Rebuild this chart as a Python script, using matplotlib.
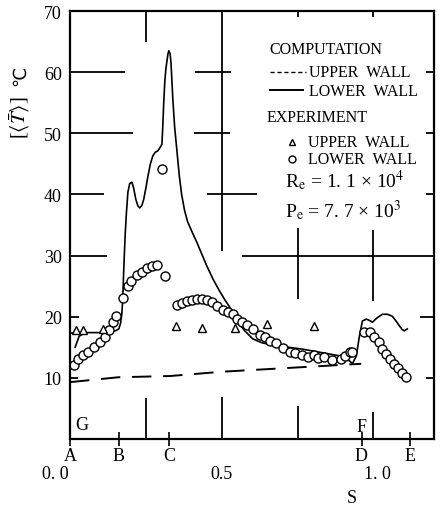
import numpy as np
import matplotlib
matplotlib.use("Agg")
import matplotlib.pyplot as plt
import matplotlib.transforms as mtransforms

plt.rcParams["font.family"] = ["Liberation Serif", "DejaVu Serif", "DejaVu Sans"]
plt.rcParams["mathtext.fontset"] = "stix"

# computation, lower wall (solid)
s_low_comp = [0.017, 0.03, 0.05, 0.10, 0.13, 0.150, 0.161, 0.167, 0.171, 0.174, 0.176,
              0.179, 0.182, 0.186, 0.191, 0.197, 0.204, 0.210, 0.217, 0.224, 0.230,
              0.237, 0.243, 0.250, 0.257, 0.265, 0.273, 0.281, 0.289, 0.296, 0.303,
              0.306, 0.309, 0.3125, 0.316, 0.319, 0.323, 0.326, 0.330, 0.333, 0.336,
              0.339, 0.345, 0.352, 0.360, 0.368, 0.378, 0.388, 0.403, 0.418, 0.434,
              0.451, 0.472, 0.493, 0.510, 0.526, 0.540, 0.553, 0.565, 0.576, 0.590,
              0.602, 0.620, 0.635, 0.691, 0.766, 0.822, 0.888, 0.921, 0.931, 0.944,
              0.954, 0.964, 0.977, 0.987, 0.997, 1.012, 1.030, 1.046, 1.062, 1.075,
              1.086, 1.095, 1.102, 1.112]
T_low_comp = [15.0, 16.8, 17.4, 17.4, 17.5, 17.7, 18.0, 19.0, 20.5, 23.0, 26.0,
              30.0, 33.5, 37.0, 40.4, 41.8, 42.0, 41.0, 39.2, 38.1, 37.8,
              38.2, 39.2, 41.0, 43.0, 45.0, 46.3, 46.9, 47.1, 47.6, 48.2,
              51.2, 55.0, 58.4, 60.5, 61.6, 63.0, 63.5, 63.0, 61.5, 58.5,
              55.6, 51.0, 47.4, 43.2, 40.0, 37.3, 35.5, 33.8, 32.2, 30.3,
              28.3, 26.1, 24.2, 22.8, 21.6, 20.4, 19.3, 18.4, 17.7, 17.0,
              16.4, 16.0, 15.7, 15.2, 14.7, 14.2, 13.6, 12.8, 12.3, 13.6,
              16.8, 19.3, 19.6, 19.4, 19.1, 19.8, 20.4, 20.4, 20.1, 19.3,
              18.5, 17.9, 17.7, 18.0]
# short flat piece at the inlet
s_low_inlet = [0.0, 0.05]
T_low_inlet = [17.4, 17.4]

# computation, upper wall (dashed)
s_up_comp = [0.0, 0.16, 0.33, 0.50, 0.96]
T_up_comp = [9.3, 10.1, 10.3, 11.0, 12.3]

# experiment, lower wall (circles)
s_low_exp = [0.013, 0.026, 0.043, 0.059, 0.079, 0.099, 0.115, 0.128, 0.141, 0.151,
             0.174, 0.191, 0.201, 0.220, 0.237, 0.253, 0.270, 0.286, 0.303, 0.313,
             0.352, 0.368, 0.385, 0.401, 0.418, 0.434, 0.451, 0.467, 0.484, 0.503,
             0.520, 0.536, 0.549, 0.566, 0.582, 0.602, 0.625, 0.642, 0.658, 0.678,
             0.701, 0.724, 0.743, 0.766, 0.786, 0.806, 0.819, 0.839, 0.865, 0.895,
             0.908, 0.924, 0.931, 0.970, 0.990, 1.003, 1.020, 1.030, 1.043, 1.056,
             1.069, 1.082, 1.095, 1.109]
T_low_exp = [12.1, 13.1, 13.7, 14.2, 15.0, 15.8, 16.7, 17.8, 19.1, 20.1,
             23.1, 25.0, 25.8, 26.8, 27.3, 28.0, 28.3, 28.5, 44.2, 26.7,
             21.9, 22.2, 22.5, 22.7, 22.9, 22.9, 22.7, 22.4, 21.8, 21.1,
             20.8, 20.4, 19.6, 19.1, 18.6, 18.0, 17.0, 16.7, 16.0, 15.7,
             14.9, 14.2, 14.1, 13.7, 13.4, 13.7, 13.2, 13.4, 12.9, 13.1,
             13.6, 14.2, 14.2, 17.5, 17.5, 16.7, 15.9, 14.7, 13.9, 13.1,
             12.3, 11.6, 10.8, 10.1]

# experiment, upper wall (triangles)
s_up_exp = [0.020, 0.043, 0.109, 0.349, 0.434, 0.543, 0.648, 0.806]
T_up_exp = [17.8, 17.8, 18.0, 18.4, 18.2, 18.2, 18.8, 18.5]

# station letters along S
station_s = [0.0, 0.161, 0.326, 0.961, 1.122]
station_names = ["A", "B", "C", "D", "E"]
s_labels = [(-0.05, "0. 0"), (0.5, "0.5"), (1.013, "1. 0")]

# broken grid pieces: (value, start, end)
h_grid = [(60, 0.0, 0.181), (60, 0.411, 0.530), (60, 1.174, 1.2),
          (50, 0.0, 0.207), (50, 0.408, 0.526), (50, 1.174, 1.2),
          (40, 0.0, 0.112), (40, 0.451, 0.618), (40, 1.174, 1.2),
          (30, 0.0, 0.122), (30, 0.566, 1.2),
          (20, 0.0, 0.03), (20, 1.155, 1.2),
          (10, 0.0, 0.026), (10, 1.174, 1.2)]
v_grid = [(0.25, 0.0, 6.7), (0.25, 64.9, 70),
          (0.5, 0.0, 6.9), (0.5, 30.7, 70),
          (0.75, 0.0, 5.4), (0.75, 22.9, 34.5), (0.75, 69.0, 70),
          (1.0, 0.0, 4.4), (1.0, 22.6, 34.2), (1.0, 69.0, 70)]

fig = plt.figure(figsize=(4.4, 5.06), dpi=100)
ax = fig.add_axes([70 / 440, 66 / 506, 364 / 440, 428 / 506])
ax.set_xlim(0, 1.2)
ax.set_ylim(0, 70)

for y, x0, x1 in h_grid:
    ax.hlines(y, x0, x1, color="black", lw=1.3)
for x, y0, y1 in v_grid:
    ax.vlines(x, y0, y1, color="black", lw=1.3)

ax.plot(s_low_inlet, T_low_inlet, color="black", lw=1.2)
ax.plot(s_low_comp, T_low_comp, color="black", lw=1.2)
ax.plot(s_up_comp, T_up_comp, color="black", lw=1.4, dashes=(10, 6))
ax.plot(s_low_exp, T_low_exp, "o", ms=6.5, mfc="white", mec="black", mew=1.0)
ax.plot(s_up_exp, T_up_exp, "^", ms=6, mfc="white", mec="black", mew=1.0)

for sp in ax.spines.values():
    sp.set_linewidth(1.6)

ax.set_yticks([10, 20, 30, 40, 50, 60, 70])
ax.tick_params(axis="y", length=0, labelsize=13, pad=6)
ax.set_xticks(station_s)
ax.set_xticklabels(station_names)
ax.tick_params(axis="x", direction="inout", length=10, width=1.2, labelsize=13, pad=1)

trans = mtransforms.blended_transform_factory(ax.transData, ax.transAxes)
for x, lab in s_labels:
    ax.text(x, -0.08, lab, transform=trans, ha="center", va="center", fontsize=13)
ax.text(0.93, -0.136, "S", transform=trans, ha="center", va="center", fontsize=13)
ax.text(0.04, 2.4, "G", ha="center", va="center", fontsize=13)
ax.text(0.96, 2.1, "F", ha="center", va="center", fontsize=13)

# y label: bracket part in mathtext, degree sign as a separate glyph
fig.text(20 / 440, 1 - 118 / 506, r"[$\langle\bar{T}\rangle$]", rotation=90,
         ha="center", va="center", fontsize=15)
fig.text(20 / 440, 1 - 76 / 506, "℃", rotation=90, ha="center", va="center",
         fontsize=13, family=["DejaVu Sans", "Noto Sans CJK JP"])

# legend drawn by hand
fs = 11.5
ax.text(0.547, 0.911, "COMPUTATION", transform=ax.transAxes, va="center", fontsize=fs)
ax.plot([0.549, 0.648], [0.857, 0.857], transform=ax.transAxes, color="black",
        lw=1.0, dashes=(3, 2))
ax.text(0.657, 0.857, "UPPER  WALL", transform=ax.transAxes, va="center", fontsize=fs)
ax.plot([0.549, 0.640], [0.816, 0.816], transform=ax.transAxes, color="black", lw=1.4)
ax.text(0.657, 0.813, "LOWER  WALL", transform=ax.transAxes, va="center", fontsize=fs)
ax.text(0.541, 0.752, "EXPERIMENT", transform=ax.transAxes, va="center", fontsize=fs)
ax.plot([0.610], [0.694], "^", transform=ax.transAxes, ms=5, mfc="white", mec="black", mew=1.0)
ax.text(0.654, 0.694, "UPPER  WALL", transform=ax.transAxes, va="center", fontsize=fs)
ax.plot([0.610], [0.654], "o", transform=ax.transAxes, ms=5, mfc="white", mec="black", mew=1.0)
ax.text(0.654, 0.654, "LOWER  WALL", transform=ax.transAxes, va="center", fontsize=fs)
ax.text(0.591, 0.607, r"R$_\mathrm{e}$ = 1. 1 × 10$^4$", transform=ax.transAxes,
        va="center", fontsize=14)
ax.text(0.591, 0.537, r"P$_\mathrm{e}$ = 7. 7 × 10$^3$", transform=ax.transAxes,
        va="center", fontsize=14)

fig.savefig("out.png", dpi=100)
